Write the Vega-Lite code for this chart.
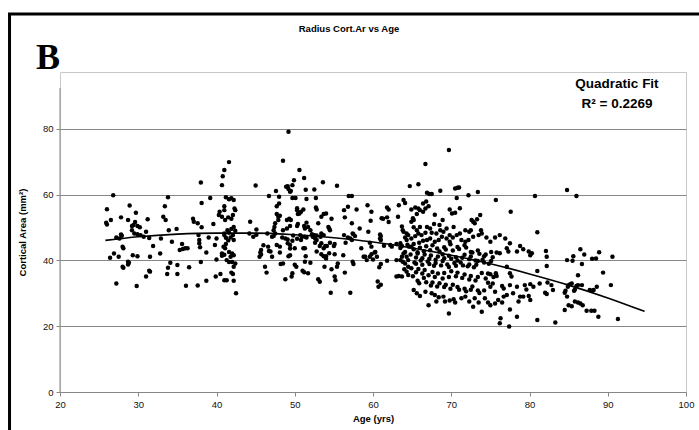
{
"$schema": "https://vega.github.io/schema/vega-lite/v6.json",
"width": 626, "height": 320,
"autosize": {"type": "none"},
"padding": {"left": 60, "top": 72, "right": 13, "bottom": 38},
"background": "white",
"config": {"view": {"stroke": "#c8c8c8", "strokeWidth": 1}, "font": "Liberation Sans"},
"datasets": {
"fit": [{"age":25.8,"area":46.1},{"age":30,"area":47.2},{"age":35,"area":48.0},{"age":40,"area":48.3},{"age":45,"area":48.3},{"age":50,"area":47.8},{"age":55,"area":46.9},{"age":60,"area":45.6},{"age":65,"area":43.8},{"age":70,"area":41.6},{"age":75,"area":39.0},{"age":80,"area":35.9},{"age":85,"area":32.5},{"age":90,"area":28.6},{"age":94.7,"area":24.5}],
"pts": [
{"age":26.0,"area":55.6},{"age":25.9,"area":51.5},{"age":26.0,"area":50.9},{"age":26.5,"area":52.3},{"age":26.8,"area":59.8},{"age":27.2,"area":47.0},{"age":26.9,"area":42.1},{"age":26.4,"area":40.8},{"age":27.2,"area":33.0},{"age":27.5,"area":41.1},{"age":27.8,"area":53.1},{"age":27.8,"area":47.9},{"age":27.9,"area":47.5},{"age":28.1,"area":43.7},{"age":28.0,"area":44.2},{"age":28.1,"area":37.8},{"age":27.6,"area":46.7},{"age":28.7,"area":52.3},{"age":28.9,"area":56.7},{"age":29.2,"area":49.2},{"age":29.2,"area":50.5},{"age":29.4,"area":50.8},{"age":29.7,"area":54.5},{"age":29.6,"area":51.7},{"age":29.9,"area":50.5},{"age":29.5,"area":48.2},{"age":29.9,"area":48.0},{"age":30.2,"area":50.1},{"age":30.3,"area":47.7},{"age":30.7,"area":47.2},{"age":31.0,"area":48.7},{"age":31.2,"area":52.5},{"age":31.4,"area":46.8},{"age":31.5,"area":41.1},{"age":31.9,"area":44.4},{"age":31.0,"area":35.1},{"age":31.4,"area":36.9},{"age":31.5,"area":36.6},{"age":29.8,"area":32.2},{"age":29.9,"area":41.3},{"age":29.3,"area":41.6},{"age":28.7,"area":39.6},{"age":28.7,"area":38.8},{"age":28.8,"area":39.3},{"age":28.0,"area":38.1},{"age":32.9,"area":46.7},{"age":32.8,"area":42.1},{"age":33.2,"area":53.3},{"age":33.4,"area":56.5},{"age":33.5,"area":52.3},{"age":33.8,"area":59.2},{"age":33.9,"area":49.2},{"age":34.3,"area":45.7},{"age":34.1,"area":39.3},{"age":33.8,"area":37.8},{"age":33.7,"area":35.9},{"age":34.9,"area":49.6},{"age":35.0,"area":38.6},{"age":35.0,"area":35.9},{"age":35.3,"area":43.2},{"age":35.6,"area":45.0},{"age":35.7,"area":43.5},{"age":36.0,"area":43.7},{"age":36.3,"area":43.7},{"age":36.5,"area":37.9},{"age":36.1,"area":32.3},{"age":37.0,"area":52.7},{"age":37.1,"area":51.8},{"age":37.6,"area":51.3},{"age":37.7,"area":47.7},{"age":38.1,"area":50.1},{"age":38.1,"area":57.5},{"age":38.0,"area":63.7},{"age":37.8,"area":46.2},{"age":37.8,"area":45.2},{"age":37.9,"area":44.0},{"age":38.0,"area":39.5},{"age":37.6,"area":32.4},{"age":38.7,"area":42.4},{"age":38.7,"area":33.8},{"age":39.0,"area":47.0},{"age":39.2,"area":59.0},{"age":39.6,"area":51.1},{"age":39.8,"area":44.7},{"age":40.0,"area":46.7},{"age":40.0,"area":40.3},{"age":39.9,"area":35.1},{"age":40.5,"area":35.9},{"age":40.7,"area":42.1},{"age":40.4,"area":54.8},{"age":40.3,"area":53.8},{"age":40.7,"area":62.9},{"age":40.8,"area":65.6},{"age":41.0,"area":67.5},{"age":41.2,"area":59.2},{"age":41.6,"area":69.9},{"age":41.6,"area":58.6},{"age":41.9,"area":58.9},{"age":42.2,"area":58.4},{"age":42.3,"area":55.8},{"age":42.4,"area":55.3},{"age":41.0,"area":56.5},{"age":41.0,"area":55.3},{"age":40.7,"area":53.3},{"age":41.1,"area":52.3},{"age":41.5,"area":53.1},{"age":41.9,"area":52.7},{"age":42.1,"area":53.8},{"age":41.4,"area":49.2},{"age":41.6,"area":48.4},{"age":41.9,"area":49.6},{"age":42.2,"area":50.2},{"age":42.4,"area":49.0},{"age":42.1,"area":47.7},{"age":41.8,"area":47.0},{"age":42.2,"area":46.2},{"age":41.0,"area":48.2},{"age":41.0,"area":47.7},{"age":41.2,"area":45.0},{"age":40.9,"area":44.2},{"age":41.1,"area":43.7},{"age":40.7,"area":41.4},{"age":41.0,"area":41.7},{"age":41.3,"area":40.1},{"age":41.6,"area":42.6},{"age":42.0,"area":42.1},{"age":41.8,"area":41.1},{"age":42.2,"area":41.6},{"age":42.0,"area":39.5},{"age":42.2,"area":38.1},{"age":42.4,"area":39.1},{"age":41.9,"area":36.3},{"age":42.1,"area":35.9},{"age":41.6,"area":39.5},{"age":41.0,"area":34.0},{"age":41.3,"area":34.0},{"age":42.2,"area":33.8},{"age":42.5,"area":30.0},{"age":41.2,"area":46.9},{"age":41.5,"area":46.1},{"age":44.3,"area":51.8},{"age":44.2,"area":48.2},{"age":44.7,"area":47.2},{"age":45.1,"area":49.4},{"age":45.1,"area":47.8},{"age":45.0,"area":62.8},{"age":45.6,"area":42.4},{"age":45.5,"area":41.1},
{"age":49.2,"area":79.1},{"age":48.5,"area":70.3},{"age":50.6,"area":67.5},{"age":51.2,"area":65.1},{"age":49.9,"area":64.4},{"age":49.7,"area":62.9},{"age":48.9,"area":62.4},{"age":49.2,"area":61.7},{"age":49.4,"area":60.9},{"age":49.5,"area":61.1},{"age":49.1,"area":62.6},{"age":53.6,"area":63.8},{"age":55.4,"area":62.7},{"age":52.5,"area":61.6},{"age":51.4,"area":61.5},{"age":47.6,"area":61.1},{"age":48.0,"area":59.4},{"age":46.7,"area":59.6},{"age":49.7,"area":59.0},{"age":50.1,"area":59.0},{"age":50.3,"area":55.9},{"age":50.3,"area":55.3},{"age":50.4,"area":54.1},{"age":50.6,"area":54.3},{"age":50.8,"area":54.8},{"age":51.1,"area":55.5},{"age":51.5,"area":58.7},{"age":52.7,"area":59.0},{"age":52.7,"area":56.1},{"age":52.8,"area":55.5},{"age":48.0,"area":57.3},{"age":47.7,"area":56.5},{"age":47.7,"area":54.1},{"age":47.9,"area":53.3},{"age":48.1,"area":53.6},{"age":47.9,"area":52.3},{"age":47.5,"area":51.3},{"age":47.4,"area":50.2},{"age":47.3,"area":49.2},{"age":47.5,"area":48.2},{"age":47.1,"area":47.2},{"age":47.3,"area":47.4},{"age":46.5,"area":48.2},{"age":45.7,"area":43.2},{"age":45.7,"area":41.8},{"age":46.0,"area":44.6},{"age":46.6,"area":44.2},{"age":46.7,"area":42.9},{"age":47.1,"area":41.1},{"age":46.9,"area":42.7},{"age":46.2,"area":38.1},{"age":46.4,"area":36.3},{"age":48.2,"area":38.9},{"age":48.5,"area":39.1},{"age":48.8,"area":34.3},{"age":49.6,"area":35.1},{"age":49.7,"area":36.1},{"age":50.0,"area":38.7},{"age":50.2,"area":38.1},{"age":51.0,"area":36.9},{"age":51.2,"area":36.4},{"age":51.7,"area":36.1},{"age":52.0,"area":39.3},{"age":51.3,"area":39.6},{"age":51.4,"area":41.3},{"age":51.3,"area":43.7},{"age":51.1,"area":43.7},{"age":49.4,"area":41.6},{"age":49.4,"area":43.6},{"age":49.4,"area":44.7},{"age":49.1,"area":45.2},{"age":49.1,"area":46.4},{"age":48.8,"area":46.7},{"age":48.4,"area":47.0},{"age":48.5,"area":49.2},{"age":49.0,"area":49.7},{"age":49.0,"area":52.3},{"age":49.3,"area":52.7},{"age":49.5,"area":52.3},{"age":49.4,"area":50.5},{"age":50.3,"area":50.5},{"age":50.4,"area":51.1},{"age":51.2,"area":50.5},{"age":51.5,"area":51.5},{"age":51.7,"area":50.2},{"age":51.3,"area":49.7},{"age":52.0,"area":49.2},{"age":52.2,"area":48.0},{"age":52.3,"area":47.2},{"age":52.5,"area":47.7},{"age":52.8,"area":47.6},{"age":52.6,"area":46.7},{"age":52.8,"area":46.2},{"age":53.3,"area":47.2},{"age":53.4,"area":48.2},{"age":53.7,"area":47.7},{"age":53.0,"area":51.3},{"age":53.4,"area":53.3},{"age":53.7,"area":54.1},{"age":54.0,"area":54.3},{"age":54.7,"area":52.7},{"age":54.3,"area":50.2},{"age":54.4,"area":49.7},{"age":54.5,"area":49.2},{"age":50.7,"area":47.7},{"age":50.9,"area":47.2},{"age":50.8,"area":46.2},{"age":51.3,"area":47.2},{"age":51.5,"area":47.0},{"age":50.3,"area":46.6},{"age":49.8,"area":47.6},{"age":49.7,"area":46.0},{"age":48.1,"area":44.2},{"age":47.7,"area":44.7},{"age":48.1,"area":42.4},{"age":49.2,"area":41.3},{"age":50.0,"area":43.7},{"age":52.6,"area":45.4},{"age":52.8,"area":42.7},{"age":53.2,"area":44.4},{"age":53.4,"area":45.2},{"age":53.7,"area":43.7},{"age":53.9,"area":44.4},{"age":54.1,"area":44.4},{"age":53.4,"area":41.9},{"age":53.7,"area":41.3},{"age":54.0,"area":41.3},{"age":54.5,"area":45.4},{"age":55.0,"area":44.4},{"age":55.1,"area":45.0},{"age":55.1,"area":41.9},{"age":54.4,"area":42.2},{"age":54.0,"area":40.6},{"age":53.8,"area":38.1},{"age":54.7,"area":37.3},{"age":55.5,"area":39.1},{"age":55.4,"area":38.1},{"age":55.1,"area":35.1},{"age":55.2,"area":34.0},{"age":53.2,"area":33.5},{"age":53.0,"area":34.3},{"age":54.6,"area":30.2},{"age":56.4,"area":36.3},{"age":57.1,"area":30.2},{"age":57.5,"area":38.9},{"age":57.4,"area":39.6},{"age":56.2,"area":41.6},{"age":56.3,"area":47.7},{"age":56.8,"area":47.0},{"age":57.1,"area":46.7},{"age":57.4,"area":48.2},{"age":57.5,"area":48.0},{"age":57.7,"area":47.4},{"age":57.3,"area":46.2},{"age":56.5,"area":45.4},{"age":57.3,"area":51.3},{"age":58.3,"area":49.7},{"age":57.9,"area":55.5},{"age":56.4,"area":53.1},{"age":56.3,"area":55.3},{"age":56.9,"area":59.6},{"age":57.3,"area":59.6},{"age":56.8,"area":56.3},{"age":59.3,"area":56.8},{"age":59.8,"area":54.8},{"age":59.7,"area":52.1},{"age":59.4,"area":48.7},{"age":58.5,"area":43.7},{"age":58.8,"area":41.1},{"age":59.0,"area":41.1},{"age":59.2,"area":40.1},{"age":59.6,"area":41.1},{"age":59.8,"area":41.9},{"age":60.0,"area":40.3},{"age":60.2,"area":42.4},{"age":60.5,"area":41.1},{"age":60.3,"area":42.6},{"age":59.8,"area":44.2},{"age":59.6,"area":45.4},{"age":60.9,"area":47.9},{"age":61.0,"area":47.4},{"age":60.9,"area":46.7},{"age":61.0,"area":46.2},{"age":61.4,"area":44.5},{"age":61.1,"area":52.8},{"age":61.3,"area":52.7},{"age":61.8,"area":56.1},{"age":62.0,"area":55.5},{"age":61.8,"area":53.1},{"age":62.0,"area":51.7},{"age":62.2,"area":44.7},{"age":62.4,"area":44.2},{"age":61.8,"area":39.9},{"age":61.0,"area":38.9},{"age":60.8,"area":37.9},{"age":60.6,"area":33.6},{"age":60.7,"area":32.0},{"age":61.0,"area":32.6},{"age":63.0,"area":45.0},{"age":63.3,"area":56.8},{"age":63.2,"area":53.3},{"age":63.7,"area":50.3},{"age":63.8,"area":49.2},{"age":63.9,"area":48.7},{"age":63.9,"area":58.4},{"age":64.1,"area":57.5},{"age":63.5,"area":45.2},{"age":63.7,"area":44.4},{"age":63.5,"area":43.8},{"age":64.1,"area":47.0},{"age":64.3,"area":48.2},{"age":64.5,"area":47.7},{"age":64.3,"area":46.2},{"age":64.4,"area":44.8},{"age":64.6,"area":44.2},{"age":64.1,"area":42.6},{"age":63.9,"area":42.1},{"age":63.7,"area":41.1},{"age":64.3,"area":41.1},{"age":64.5,"area":40.1},{"age":64.3,"area":36.6},{"age":64.5,"area":35.6},{"age":63.7,"area":35.1},{"age":63.0,"area":35.1},{"age":63.3,"area":35.3},{"age":64.0,"area":37.3},{"age":64.5,"area":38.1},{"age":64.1,"area":39.1},{"age":63.8,"area":39.6},{"age":63.5,"area":40.1},{"age":63.0,"area":40.1},
{"age":69.7,"area":73.6},{"age":66.7,"area":69.3},{"age":64.7,"area":62.6},{"age":65.8,"area":63.2},{"age":66.9,"area":60.6},{"age":67.2,"area":60.2},{"age":67.5,"area":60.2},{"age":68.6,"area":61.2},{"age":70.5,"area":61.9},{"age":70.8,"area":62.1},{"age":71.0,"area":62.2},{"age":72.2,"area":59.8},{"age":70.7,"area":59.0},{"age":73.4,"area":60.8},{"age":75.7,"area":58.4},{"age":77.6,"area":54.8},{"age":80.7,"area":59.6},
{"age":64.9,"area":55.5},{"age":65.4,"area":56.1},{"age":65.8,"area":55.8},{"age":66.0,"area":55.3},{"age":65.6,"area":54.1},{"age":65.1,"area":52.8},{"age":65.2,"area":52.3},{"age":64.9,"area":51.8},{"age":66.4,"area":57.3},{"age":66.8,"area":57.9},{"age":67.1,"area":56.5},{"age":66.7,"area":55.8},{"age":66.4,"area":54.8},{"age":67.9,"area":53.9},{"age":69.8,"area":55.5},{"age":70.5,"area":54.5},{"age":71.1,"area":55.9},{"age":70.1,"area":54.3},{"age":68.9,"area":52.3},{"age":68.5,"area":50.8},{"age":67.8,"area":51.1},{"age":66.9,"area":50.2},{"age":67.3,"area":49.7},{"age":66.0,"area":50.2},{"age":65.6,"area":49.2},{"age":65.2,"area":50.1},{"age":70.3,"area":50.2},{"age":69.4,"area":49.7},{"age":69.0,"area":48.7},{"age":68.6,"area":49.2},{"age":68.1,"area":48.2},{"age":67.5,"area":48.4},{"age":66.7,"area":48.4},{"age":66.2,"area":47.7},{"age":65.8,"area":48.2},{"age":65.4,"area":47.4},{"age":64.9,"area":46.7},{"age":72.6,"area":52.3},{"age":72.8,"area":51.8},{"age":73.0,"area":51.3},{"age":73.3,"area":52.5},{"age":73.7,"area":53.8},{"age":72.5,"area":49.2},{"age":72.3,"area":48.7},{"age":71.8,"area":49.2},{"age":71.1,"area":48.2},{"age":70.7,"area":47.7},{"age":69.8,"area":47.7},{"age":69.4,"area":46.7},{"age":70.2,"area":47.0},{"age":69.8,"area":45.7},{"age":68.8,"area":47.2},{"age":68.4,"area":46.2},{"age":67.9,"area":45.7},{"age":67.3,"area":46.7},{"age":66.9,"area":46.2},{"age":66.4,"area":46.0},{"age":65.9,"area":45.4},{"age":65.2,"area":45.0},{"age":64.9,"area":44.2},{"age":71.3,"area":46.2},{"age":71.8,"area":45.7},{"age":72.2,"area":46.2},{"age":72.8,"area":47.2},{"age":73.5,"area":47.7},{"age":73.9,"area":48.2},{"age":73.8,"area":49.2},{"age":75.0,"area":45.7},{"age":74.5,"area":47.0},{"age":75.6,"area":47.0},{"age":76.2,"area":47.7},{"age":76.9,"area":46.7},{"age":77.5,"area":45.2},{"age":78.8,"area":44.4},{"age":79.2,"area":43.4},{"age":75.8,"area":42.4},{"age":76.2,"area":42.2},{"age":77.1,"area":43.7},{"age":77.3,"area":42.7},{"age":78.4,"area":42.7},{"age":79.9,"area":42.7},{"age":80.1,"area":41.6},{"age":80.3,"area":42.2},
{"age":65.2,"area":43.4},{"age":65.7,"area":42.5},{"age":66.0,"area":43.9},{"age":66.5,"area":42.8},{"age":66.8,"area":44.3},{"age":67.3,"area":43.1},{"age":67.6,"area":44.6},{"age":68.2,"area":43.6},{"age":68.5,"area":42.7},{"age":69.1,"area":44.0},{"age":69.3,"area":43.3},{"age":69.9,"area":44.9},{"age":70.2,"area":43.0},{"age":70.8,"area":44.1},{"age":71.0,"area":43.5},{"age":71.7,"area":44.6},{"age":71.9,"area":43.9},{"age":72.5,"area":42.6},{"age":72.7,"area":42.4},{"age":73.4,"area":43.0},{"age":73.6,"area":42.0},{"age":74.2,"area":41.3},{"age":74.4,"area":41.8},{"age":75.1,"area":42.6},{"age":75.3,"area":41.0},
{"age":64.8,"area":41.8},{"age":65.5,"area":40.9},{"age":65.7,"area":42.1},{"age":66.3,"area":40.7},{"age":66.6,"area":41.8},{"age":67.2,"area":40.5},{"age":67.4,"area":41.5},{"age":68.0,"area":40.2},{"age":68.3,"area":41.2},{"age":68.9,"area":41.9},{"age":69.1,"area":40.7},{"age":69.7,"area":41.4},{"age":70.0,"area":40.5},{"age":70.6,"area":41.0},{"age":70.8,"area":40.0},{"age":71.4,"area":40.8},{"age":71.7,"area":41.7},{"age":72.3,"area":40.4},{"age":72.5,"area":41.2},{"age":73.1,"area":40.0},{"age":73.4,"area":39.8},{"age":74.0,"area":40.2},{"age":74.2,"area":39.4},{"age":74.8,"area":39.0},{"age":75.1,"area":39.8},
{"age":65.3,"area":39.4},{"age":65.5,"area":39.0},{"age":66.1,"area":40.0},{"age":66.3,"area":38.7},{"age":67.0,"area":39.7},{"age":67.2,"area":38.9},{"age":67.8,"area":38.4},{"age":68.0,"area":39.2},{"age":68.7,"area":38.5},{"age":68.9,"area":39.8},{"age":69.5,"area":38.8},{"age":69.7,"area":38.0},{"age":70.4,"area":39.2},{"age":70.6,"area":38.4},{"age":71.2,"area":39.4},{"age":71.5,"area":38.5},{"age":72.1,"area":38.2},{"age":72.3,"area":38.8},{"age":72.9,"area":37.9},{"age":73.2,"area":38.7},
{"age":64.9,"area":37.6},{"age":65.5,"area":36.4},{"age":65.8,"area":37.4},{"age":66.3,"area":36.0},{"age":66.6,"area":37.1},{"age":67.1,"area":35.5},{"age":67.6,"area":36.5},{"age":67.9,"area":35.0},{"age":68.3,"area":36.0},{"age":68.9,"area":34.5},{"age":69.1,"area":36.2},{"age":69.7,"area":35.0},{"age":70.0,"area":36.7},{"age":70.6,"area":35.2},{"age":70.8,"area":36.3},{"age":71.4,"area":34.7},{"age":71.7,"area":35.7},{"age":72.3,"area":34.2},{"age":72.5,"area":35.3},{"age":73.1,"area":33.9},{"age":73.4,"area":35.0},{"age":73.9,"area":36.2},{"age":74.4,"area":34.5},{"age":74.7,"area":36.0},{"age":75.0,"area":35.8},{"age":75.4,"area":35.0},{"age":75.7,"area":36.1},{"age":75.8,"area":35.3},{"age":77.1,"area":38.1},{"age":77.5,"area":36.1},{"age":77.7,"area":35.1},
{"age":65.1,"area":35.2},{"age":65.7,"area":33.8},{"age":65.9,"area":33.1},{"age":66.5,"area":34.7},{"age":66.8,"area":33.4},{"age":67.4,"area":32.4},{"age":67.6,"area":33.3},{"age":68.2,"area":32.1},{"age":68.5,"area":33.1},{"age":69.1,"area":31.9},{"age":69.3,"area":32.6},{"age":69.9,"area":31.4},{"age":70.2,"area":32.6},{"age":70.8,"area":31.9},{"age":71.0,"area":31.1},{"age":71.7,"area":31.4},{"age":71.9,"area":30.6},{"age":72.5,"area":31.1},{"age":72.7,"area":32.1},{"age":73.4,"area":30.9},{"age":73.6,"area":30.1},{"age":74.2,"area":30.9},{"age":74.7,"area":33.2},{"age":75.0,"area":32.0},{"age":75.3,"area":33.0},{"age":75.6,"area":30.5},{"age":76.5,"area":32.2},{"age":76.7,"area":31.5},{"age":77.5,"area":32.5},{"age":78.4,"area":32.0},{"age":79.4,"area":32.5},{"age":79.6,"area":31.2},{"age":80.1,"area":32.8},{"age":80.5,"area":32.0},
{"age":65.2,"area":31.0},{"age":65.6,"area":30.0},{"age":66.0,"area":29.2},{"age":66.7,"area":30.5},{"age":67.5,"area":30.0},{"age":67.9,"area":29.5},{"age":68.4,"area":28.8},{"age":69.0,"area":29.0},{"age":69.2,"area":27.5},{"age":69.8,"area":27.8},{"age":70.3,"area":28.2},{"age":70.5,"area":27.2},{"age":71.3,"area":28.5},{"age":71.8,"area":29.0},{"age":72.3,"area":27.5},{"age":73.0,"area":28.5},{"age":73.5,"area":27.2},{"age":73.9,"area":24.4},{"age":74.3,"area":28.5},{"age":74.7,"area":27.2},{"age":75.0,"area":26.4},{"age":75.6,"area":26.9},{"age":76.0,"area":28.0},{"age":76.5,"area":27.2},{"age":76.7,"area":29.0},{"age":77.1,"area":29.5},{"age":77.9,"area":30.0},{"age":78.8,"area":29.0},{"age":78.6,"area":27.5},{"age":79.2,"area":29.0},{"age":79.9,"area":29.2},{"age":80.1,"area":28.0},{"age":67.1,"area":26.4},{"age":68.1,"area":27.5},{"age":69.7,"area":23.9},{"age":72.8,"area":25.9},{"age":76.2,"area":20.9},{"age":76.3,"area":22.4},{"age":77.4,"area":19.9},{"age":77.5,"area":25.1},{"age":78.4,"area":22.9},
{"age":84.8,"area":61.4},{"age":86.0,"area":59.6},{"age":81.0,"area":48.6},{"age":82.1,"area":42.9},{"age":82.2,"area":41.1},{"age":86.5,"area":43.4},{"age":87.0,"area":41.8},{"age":88.9,"area":42.5},{"age":90.6,"area":41.1},{"age":85.6,"area":41.3},{"age":84.8,"area":40.1},{"age":85.5,"area":39.9},{"age":88.0,"area":40.5},{"age":88.5,"area":40.6},{"age":81.0,"area":36.8},{"age":81.3,"area":33.0},{"age":82.2,"area":38.3},{"age":82.3,"area":33.3},{"age":82.8,"area":32.5},{"age":82.0,"area":30.2},{"age":82.2,"area":29.8},{"age":83.0,"area":31.0},{"age":81.0,"area":21.9},{"age":83.3,"area":21.1},{"age":86.7,"area":38.9},{"age":86.2,"area":35.5},{"age":85.0,"area":32.5},{"age":85.2,"area":32.8},{"age":85.4,"area":33.0},{"age":84.9,"area":32.0},{"age":86.0,"area":32.2},{"age":86.2,"area":32.5},{"age":86.7,"area":32.5},{"age":85.8,"area":31.2},{"age":85.7,"area":30.8},{"age":84.6,"area":30.8},{"age":84.5,"area":30.2},{"age":84.8,"area":29.0},{"age":85.0,"area":26.4},{"age":85.4,"area":26.1},{"age":84.5,"area":24.9},{"age":85.8,"area":27.5},{"age":86.2,"area":27.2},{"age":86.5,"area":26.9},{"age":86.8,"area":26.4},{"age":87.3,"area":24.7},{"age":87.9,"area":24.7},{"age":88.3,"area":24.7},{"age":88.8,"area":22.9},{"age":87.7,"area":31.0},{"age":88.0,"area":30.8},{"age":88.2,"area":31.0},{"age":88.6,"area":32.0},{"age":89.4,"area":36.3},{"age":90.4,"area":32.5},{"age":91.3,"area":22.2}
]},
"layer": [
{"data": {"values": [{}]},
 "mark": {"type": "rect", "filled": false, "stroke": "black", "strokeWidth": 3, "clip": false},
 "encoding": {
  "x": {"datum": 13.55, "type": "quantitative", "scale": {"domain": [20, 100], "nice": false, "zero": false}},
  "x2": {"datum": 106},
  "y": {"datum": 114.9, "type": "quantitative", "scale": {"domain": [0, 97.3], "nice": false, "zero": false}},
  "y2": {"datum": -20}}},
{"data": {"name": "pts"},
 "mark": {"type": "circle", "size": 20, "color": "black", "opacity": 1},
 "encoding": {
  "x": {"field": "age", "type": "quantitative", "scale": {"domain": [20, 100], "nice": false, "zero": false},
   "axis": {"values": [20,30,40,50,60,70,80,90,100], "title": "Age (yrs)", "grid": false, "tickSize": 4, "tickColor": "#868686", "domainColor": "#868686", "labelFontSize": 9.5, "labelFont": "Liberation Sans", "labelColor": "#111", "labelPadding": 3, "labelFlush": false, "titleFont": "Liberation Sans", "titleFontSize": 9.5, "titleFontWeight": "bold", "titleColor": "#000", "titlePadding": 5}},
  "y": {"field": "area", "type": "quantitative", "scale": {"domain": [0, 97.3], "nice": false, "zero": false},
   "axis": {"values": [0,10,20,30,40,50,60,70,80], "labelExpr": "datum.value % 20 === 0 ? datum.label : ''", "title": "Cortical Area (mm²)", "grid": true, "gridColor": "#868686", "gridOpacity": {"condition": {"test": "datum.value % 20 === 0 && datum.value > 0", "value": 1}, "value": 0}, "domain": false, "tickSize": 4, "tickColor": "#868686", "labelFontSize": 9.5, "labelFont": "Liberation Sans", "labelColor": "#111", "labelPadding": 3, "labelFlush": false, "titleFont": "Liberation Sans", "titleFontSize": 9.5, "titleFontWeight": "bold", "titleColor": "#000", "titlePadding": 15}}}},
{"data": {"values": [{}]},
 "mark": {"type": "rule", "color": "#868686", "strokeWidth": 1},
 "encoding": {
  "x": {"datum": 20, "type": "quantitative", "scale": {"domain": [20, 100], "nice": false, "zero": false}},
  "y": {"datum": 0, "type": "quantitative", "scale": {"domain": [0, 97.3], "nice": false, "zero": false}},
  "y2": {"datum": 92.4}}},
{"data": {"name": "fit"},
 "mark": {"type": "line", "color": "black", "strokeWidth": 1.6, "interpolate": "monotone"},
 "encoding": {
  "x": {"field": "age", "type": "quantitative", "scale": {"domain": [20, 100], "nice": false, "zero": false}},
  "y": {"field": "area", "type": "quantitative", "scale": {"domain": [0, 97.3], "nice": false, "zero": false}}}},
{"data": {"values": [{}]},
 "mark": {"type": "text", "text": "Radius Cort.Ar vs Age", "font": "Liberation Sans", "fontWeight": "bold", "fontSize": 9.5, "align": "center", "baseline": "alphabetic", "color": "black"},
 "encoding": {
  "x": {"datum": 56.93, "type": "quantitative", "scale": {"domain": [20, 100], "nice": false, "zero": false}},
  "y": {"datum": 109.4, "type": "quantitative", "scale": {"domain": [0, 97.3], "nice": false, "zero": false}}}},
{"data": {"values": [{}]},
 "mark": {"type": "text", "text": "B", "font": "Liberation Serif", "fontWeight": "bold", "fontSize": 36, "align": "left", "baseline": "alphabetic", "color": "black"},
 "encoding": {
  "x": {"datum": 16.93, "type": "quantitative", "scale": {"domain": [20, 100], "nice": false, "zero": false}},
  "y": {"datum": 98.2, "type": "quantitative", "scale": {"domain": [0, 97.3], "nice": false, "zero": false}}}},
{"data": {"values": [{}]},
 "mark": {"type": "text", "text": "Quadratic Fit", "font": "Liberation Sans", "fontWeight": "bold", "fontSize": 13.5, "align": "center", "baseline": "alphabetic", "color": "black"},
 "encoding": {
  "x": {"datum": 91.18, "type": "quantitative", "scale": {"domain": [20, 100], "nice": false, "zero": false}},
  "y": {"datum": 92.4, "type": "quantitative", "scale": {"domain": [0, 97.3], "nice": false, "zero": false}}}},
{"data": {"values": [{}]},
 "mark": {"type": "text", "text": "R² = 0.2269", "font": "Liberation Sans", "fontWeight": "bold", "fontSize": 13.5, "align": "center", "baseline": "alphabetic", "color": "black"},
 "encoding": {
  "x": {"datum": 91.18, "type": "quantitative", "scale": {"domain": [20, 100], "nice": false, "zero": false}},
  "y": {"datum": 86.3, "type": "quantitative", "scale": {"domain": [0, 97.3], "nice": false, "zero": false}}}}
]
}
